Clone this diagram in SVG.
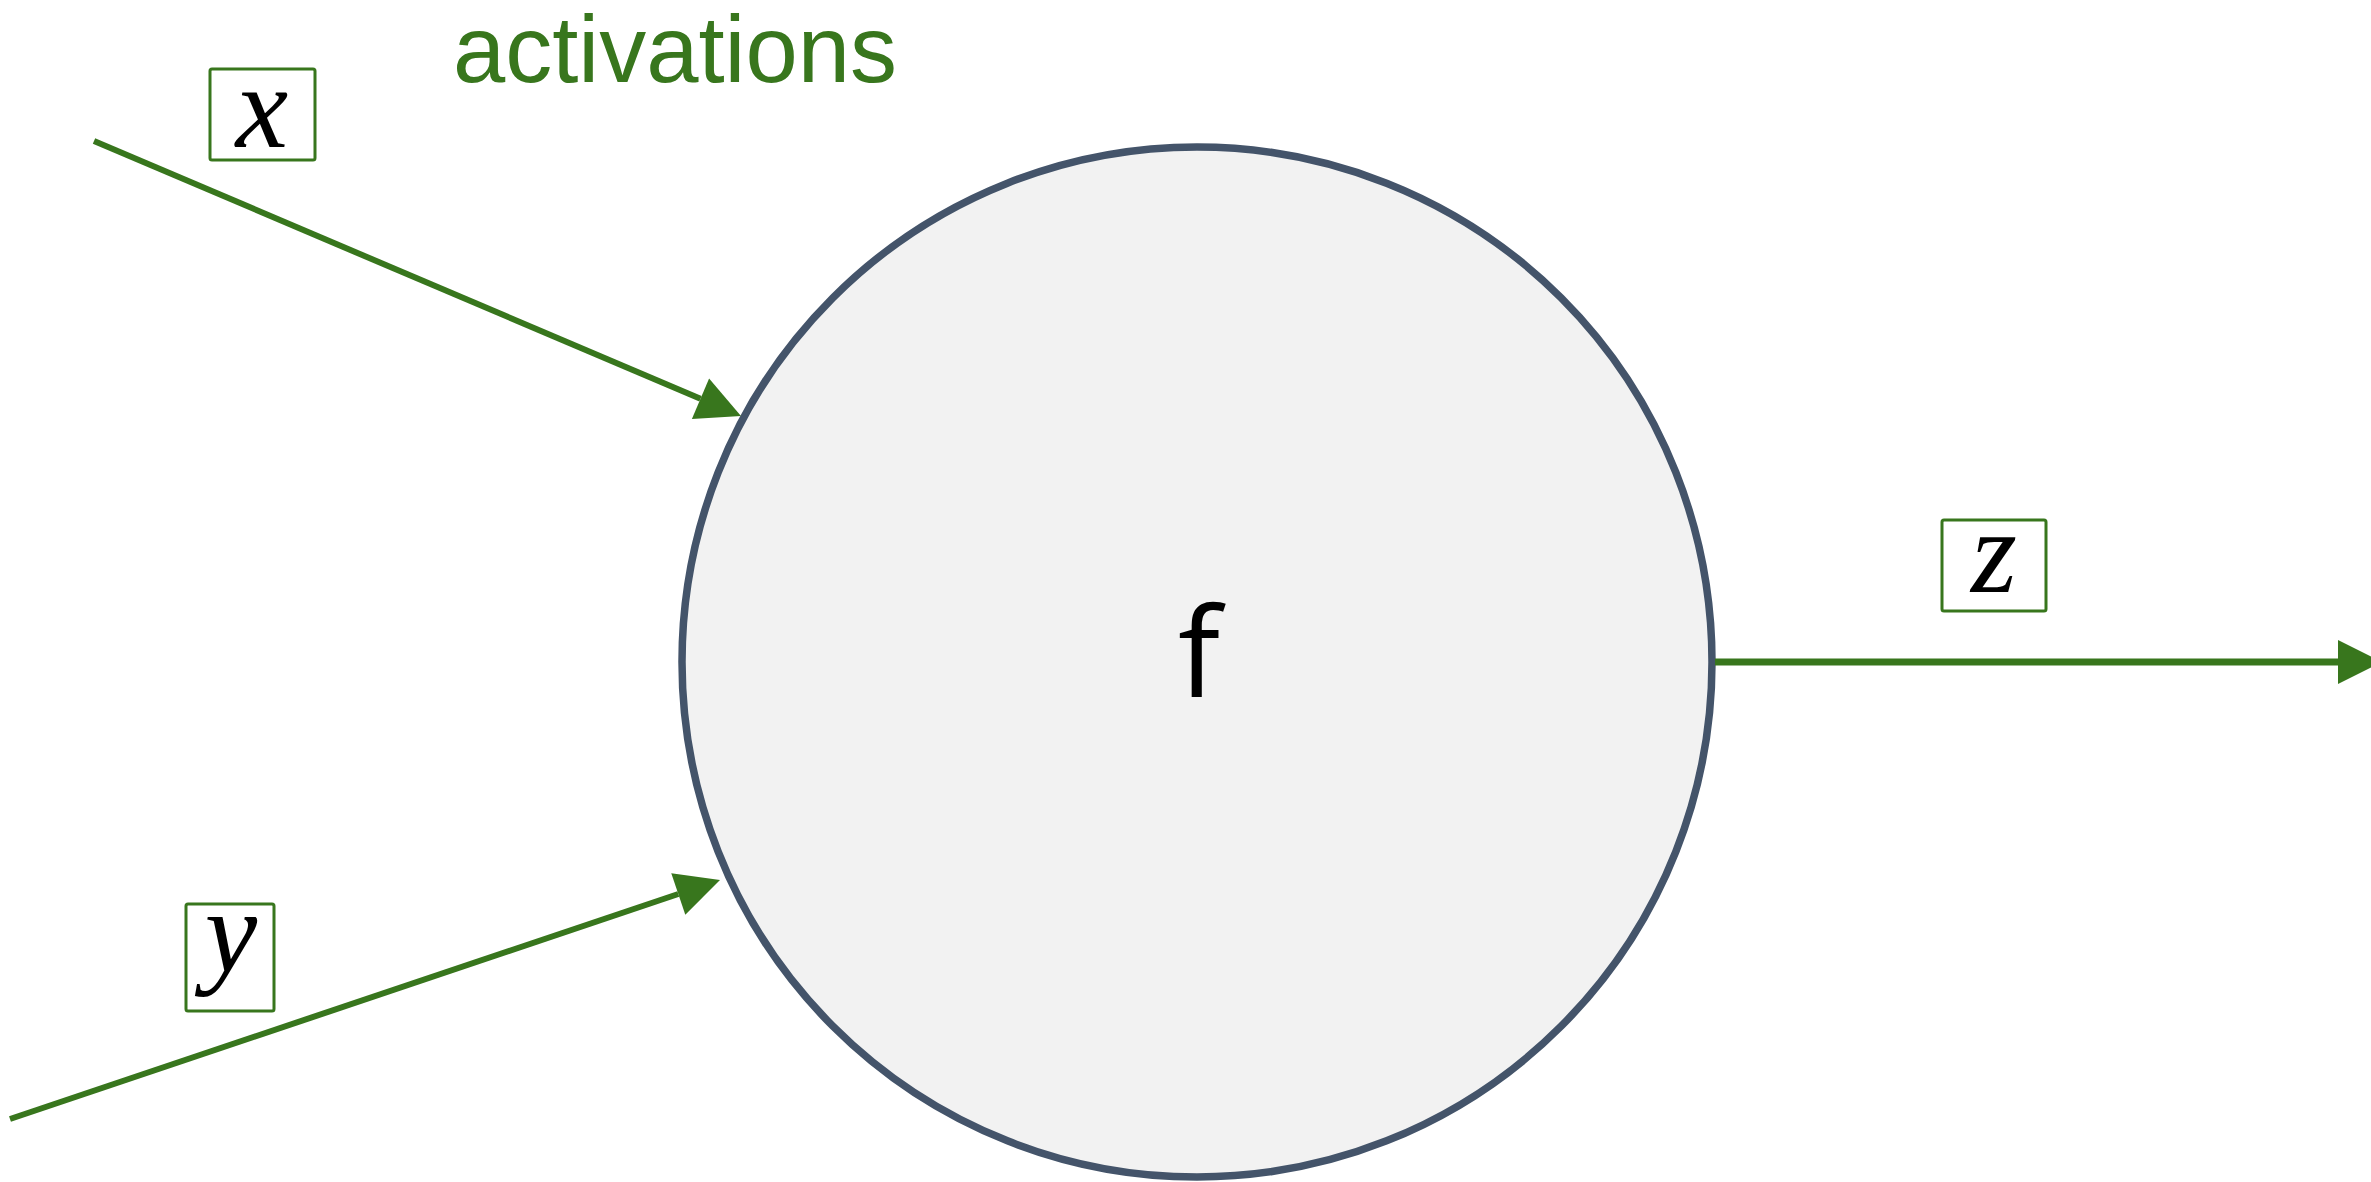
<svg xmlns="http://www.w3.org/2000/svg" width="2371" height="1182" viewBox="0 0 2371 1182">
<style>
.conn{stroke:#38761D;stroke-width:6;fill:none;marker-end:url(#arr)}
.lbl{fill:#fff;stroke:#38761D;stroke-width:3}
.math{font-family:"Liberation Serif","DejaVu Serif",serif;font-style:italic;font-size:118px;fill:#000;text-anchor:middle}
</style>
<defs>
<marker id="arr" markerUnits="userSpaceOnUse" markerWidth="44" markerHeight="44" refX="0" refY="22" orient="auto" overflow="visible">
<path d="M0,0 L44,22 L0,44 Z" fill="#38761D"/>
</marker>
</defs>
<rect width="2371" height="1182" fill="#fff"/>
<g id="title">
<text x="453" y="82" font-family="Liberation Sans, Arial, sans-serif" font-size="95" fill="#38761D" textLength="444" lengthAdjust="spacingAndGlyphs">activations</text>
</g>
<g id="node-f">
<circle cx="1197" cy="662" r="515" fill="#F2F2F2" stroke="#44546A" stroke-width="7.5"/>
<text x="1199" y="697" font-family="Open Sans, Liberation Sans, sans-serif" font-size="125" fill="#000" text-anchor="middle">f</text>
</g>
<g id="connectors">
<path class="conn" d="M94,141 L700.5,398.8"/>
<path class="conn" d="M10,1119 L678.3,894"/>
<path class="conn" style="stroke-width:7" d="M1715,662 L2338,662"/>
</g>
<g id="label-x">
<rect class="lbl" x="210" y="69" width="105" height="91" rx="2"/>
<text class="math" x="262" y="147">x</text>
</g>
<g id="label-y">
<rect class="lbl" x="186" y="904" width="88" height="107" rx="2"/>
<text class="math" x="231" y="972">y</text>
</g>
<g id="label-z">
<rect class="lbl" x="1942" y="520" width="104" height="91" rx="2"/>
<text class="math" x="1994" y="592">z</text>
</g>
</svg>
